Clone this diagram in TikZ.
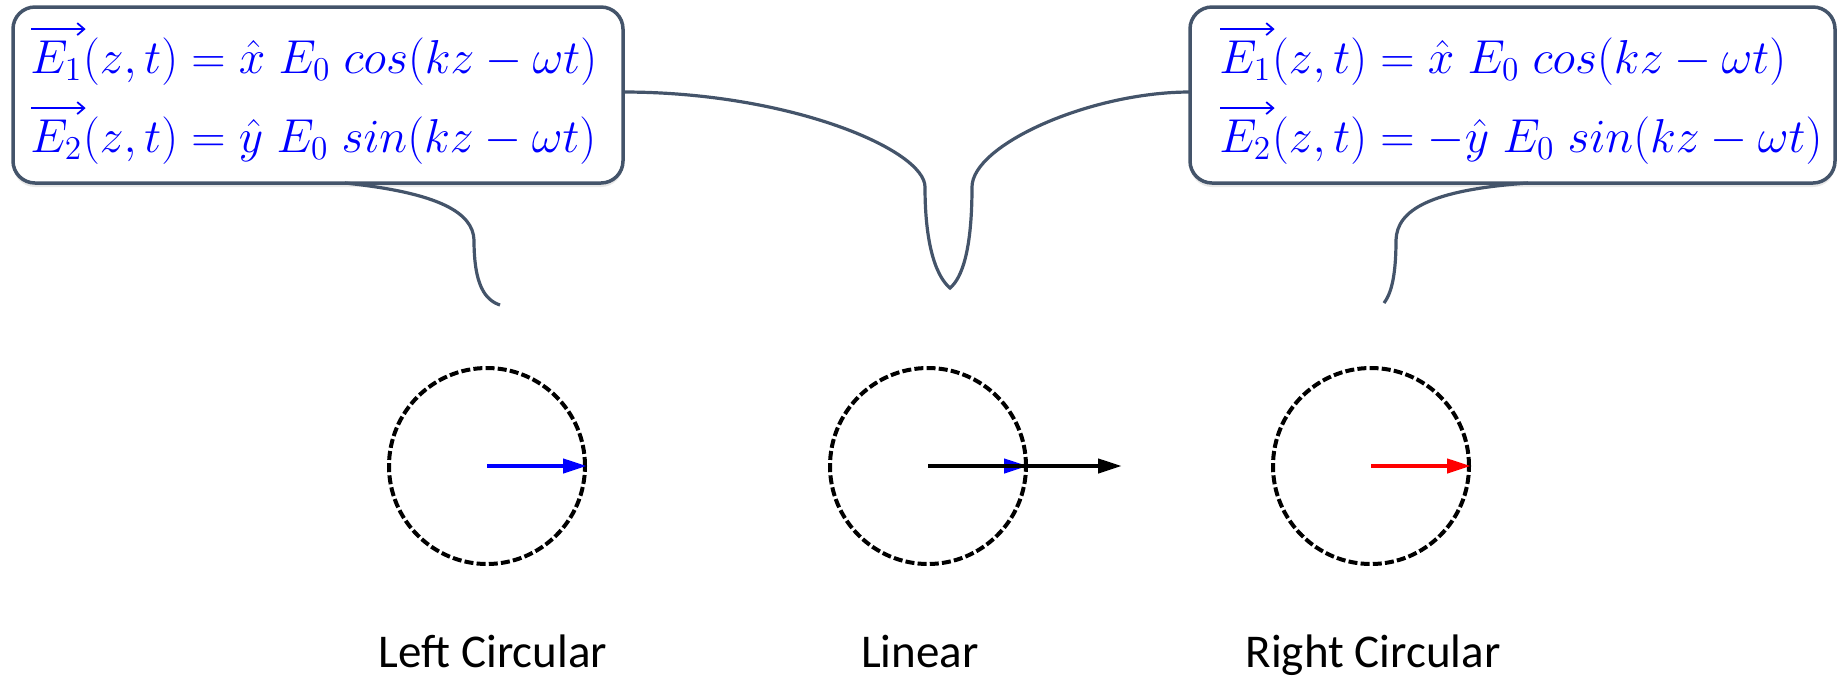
\RequirePackage{fix-cm}
\documentclass[tikz,border=0pt]{standalone}
\usepackage{fontspec}
\setmainfont{Carlito}
\usetikzlibrary{arrows.meta,shadows}
\definecolor{slate}{HTML}{44546A}
\definecolor{eqblue}{HTML}{0000FF}
\definecolor{vred}{HTML}{FF0000}
\begin{document}
\begin{tikzpicture}[x=0.5pt,y=-0.5pt,
  bubble/.style={draw=slate, line width=1.75pt, rounded corners=11pt, fill=white, inner sep=0pt,
    drop shadow={shadow xshift=0pt, shadow yshift=-2pt, opacity=0.18}},
  tail/.style={draw=slate, line width=1.6pt},
  ring/.style={circle, draw=black, line width=2pt, dash pattern=on 4.5pt off 1.6pt,
    minimum size=98pt, inner sep=0pt},
  vec/.style={line width=2.1pt, -{Triangle[length=12pt,width=7pt]}},
  eq/.style={text=eqblue, inner sep=0pt, anchor=base west, font=\fontsize{23.8}{28}\selectfont},
  overarrow/.style={draw=eqblue, line width=0.9pt, -{Straight Barb[length=3.5pt,width=6pt]}},
  lab/.style={inner sep=0pt, anchor=base, font=\fontsize{23.5}{28}\selectfont}]
\useasboundingbox (0,0) rectangle (1837,677);

% callout boxes
\node[bubble, minimum width=305pt, minimum height=88pt] (boxL) at (318,95) {};
\node[bubble, minimum width=322.5pt, minimum height=88pt] (boxR) at (1512.5,95) {};

% equations (vector symbol + rest)
\node[eq] (l1e) at (30,73) {$E_1$};
\node[eq] (l1r) at (l1e.base east) {$(z,t) = \hat{x}\;E_0\;cos(kz-\omega t)$};
\node[eq] (l2e) at (30,152) {$E_2$};
\node[eq] (l2r) at (l2e.base east) {$(z,t) = \hat{y}\;E_0\;sin(kz-\omega t)$};
\node[eq] (r1e) at (1219,73) {$E_1$};
\node[eq] (r1r) at (r1e.base east) {$(z,t) = \hat{x}\;E_0\;cos(kz-\omega t)$};
\node[eq] (r2e) at (1219,152) {$E_2$};
\node[eq] (r2r) at (r2e.base east) {$(z,t) = -\hat{y}\;E_0\;sin(kz-\omega t)$};

% vector arrows over E
\foreach \n in {l1e,l2e,r1e,r2e}
  \draw[overarrow] ([xshift=0.5pt,yshift=5.5pt]\n.north west) -- ([xshift=1.5pt,yshift=5.5pt]\n.north east);

% tail coordinates
\coordinate (tLs) at (345,183);
\coordinate (tLk) at (474,240);
\coordinate (tLe) at (500,305);
\coordinate (tRs) at (1528,183);
\coordinate (tRk) at (1396,240);
\coordinate (tRe) at (1384,303);
\coordinate (mL) at (623,92);
\coordinate (mLk) at (925,187);
\coordinate (mTip) at (950,288);
\coordinate (mRk) at (972,187);
\coordinate (mR) at (1190,92);

% tails
\draw[tail] (tLs) .. controls (440,193) and (473,213) .. (tLk)
  .. controls (474,285) and (485,300) .. (tLe);
\draw[tail] (tRs) .. controls (1430,190) and (1397,210) .. (tRk)
  .. controls (1396,280) and (1390,295) .. (tRe);
\draw[tail] (mL) .. controls (790,92) and (925,150) .. (mLk)
  .. controls (925,250) and (938,278) .. (mTip)
  .. controls (962,278) and (972,250) .. (mRk)
  .. controls (972,145) and (1090,92) .. (mR);

% circles
\node[ring] (cL) at (487,466) {};
\node[ring] (cM) at (928,466) {};
\node[ring] (cR) at (1371,466) {};
\coordinate (lintip) at (1122,466);

% vectors
\draw[vec, eqblue] (cL.center) -- (cL.east);
\draw[vec, eqblue] (cM.center) -- (cM.east);
\draw[vec, black] (cM.center) -- (lintip);
\draw[vec, vred] (cR.center) -- (cR.east);

% labels
\node[lab] (tL) at (493,667) {Left Circular};
\node[lab] (tM) at (920,667) {Linear};
\node[lab] (tR) at (1373,667) {Right Circular};
\end{tikzpicture}
\end{document}
